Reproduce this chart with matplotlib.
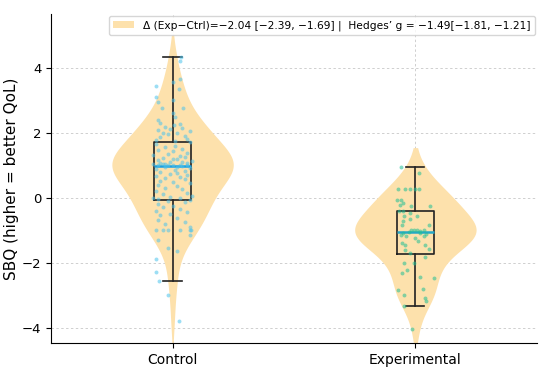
import numpy as np
import matplotlib.pyplot as plt
from matplotlib.patches import Patch

groups = ["Control", "Experimental"]

ctrl_vals = [
    4.34, 4.19, 3.64, 3.57, 3.44, 3.33, 3.09, 3.0, 2.93, 2.75, 2.75, 2.59, 2.47, 2.39, 2.29,
    2.26, 2.23, 2.16, 2.13, 2.10, 2.08, 2.06, 2.0, 1.98, 1.95, 1.9, 1.85, 1.8, 1.76, 1.73,
    1.70, 1.65, 1.6, 1.55, 1.5, 1.45, 1.42, 1.38, 1.35, 1.32, 1.28, 1.25, 1.22, 1.2, 1.18,
    1.15, 1.13, 1.1, 1.08, 1.06, 1.05, 1.04, 1.03, 1.02, 1.0, 1.0, 1.0, 1.0, 1.0, 0.98,
    0.95, 0.93, 0.9, 0.88, 0.85, 0.82, 0.8, 0.77, 0.74, 0.7, 0.67, 0.63, 0.6, 0.56, 0.52,
    0.48, 0.44, 0.4, 0.35, 0.3, 0.25, 0.2, 0.15, 0.1, 0.05, 0.02, 0.0, -0.02, -0.04, -0.07,
    -0.1, -0.15, -0.2, -0.25, -0.3, -0.35, -0.4, -0.45, -0.5, -0.55, -0.62, -0.7, -0.75, -0.8, -0.9,
    -1.0, -1.0, -1.0, -1.0, -1.0, -1.0, -1.15, -1.3, -1.55, -1.65, -1.9, -2.29, -2.58, -3.0, -3.81,
]
ctrl_jit = [
    0.033, 0.03, 0.03, 0.0, -0.07, 0.025, -0.07, 0.0, -0.06, -0.045, 0.045, 0.0, 0.01, -0.06, -0.05,
    0.03, 0.005, -0.03, 0.04, -0.01, -0.06, 0.07, -0.04, 0.02, -0.02, 0.05, -0.05, 0.06, -0.07, 0.01,
    0.07, -0.07, 0.01, -0.03, 0.04, -0.06, 0.0, 0.06, -0.02, -0.08, 0.03, 0.05, -0.04, 0.0, 0.02,
    -0.06, 0.08, -0.01, 0.04, -0.05, 0.06, -0.03, -0.08, -0.04, 0.0, 0.03, 0.06, -0.06, -0.02, 0.04,
    0.02, -0.03, 0.07, -0.07, 0.01, 0.05, -0.05, 0.02, -0.01, 0.06, -0.07, 0.03, -0.03, 0.05, -0.05,
    0.0, 0.07, -0.06, 0.02, -0.03, 0.04, -0.07, 0.06, -0.04, 0.08, -0.01, -0.08, 0.03, -0.06, 0.07,
    -0.02, 0.05, -0.06, 0.0, -0.04, 0.03, -0.07, 0.06, -0.01, -0.05, 0.02, -0.06, 0.05, -0.03, 0.07,
    -0.07, -0.04, -0.02, 0.03, 0.07, 0.075, 0.07, -0.06, -0.02, 0.02, -0.07, -0.07, -0.055, -0.018, 0.025,
]

exp_vals = [
    0.95, 0.75, 0.26, 0.26, 0.26, 0.26, 0.26, -0.06, -0.06, -0.18, -0.23, -0.25, -0.27,
    -0.41, -0.41, -0.47, -0.56, -0.57, -0.67, -0.72, -0.85, -0.85, -1.0, -1.0, -1.0, -1.0,
    -1.03, -1.05, -1.08, -1.1, -1.12, -1.15, -1.19, -1.19, -1.23, -1.34, -1.39, -1.47, -1.47,
    -1.59, -1.62, -1.70, -1.84, -2.0, -2.0, -2.23, -2.31, -2.44, -2.49, -2.80, -2.85, -3.0,
    -3.08, -3.19, -3.35, -4.06,
]
exp_jit = [
    -0.059, 0.014, -0.071, -0.044, -0.021, -0.003, 0.014, -0.075, -0.059, -0.052, -0.065, 0.059, -0.018,
    -0.069, -0.052, -0.023, -0.048, 0.007, -0.023, -0.052, -0.055, 0.055, -0.018, -0.007, 0.007, 0.034,
    0.018, -0.028, 0.02, -0.05, 0.045, -0.06, -0.037, 0.034, -0.003, 0.01, -0.055, -0.041, 0.038,
    0.055, -0.044, -0.021, 0.041, -0.048, -0.007, -0.034, -0.055, 0.018, 0.075, 0.032, -0.071, -0.048,
    0.041, 0.045, -0.045, -0.014,
]

legend_label = "Δ (Exp−Ctrl)=−2.04 [−2.39, −1.69] |  Hedges’ g = −1.49[−1.81, −1.21]"

data = [np.array(ctrl_vals), np.array(exp_vals)]
jits = [np.array(ctrl_jit), np.array(exp_jit)]
point_colors = ["#4cc3ec", "#1fbf95"]
median_colors = ["#1b9fe0", "#26a8c8"]
violin_color = "#fde1ac"

fig = plt.figure(figsize=(5.5, 3.67), dpi=100)
ax = fig.add_axes([0.093, 0.065, 0.883, 0.897])
ax.set_axisbelow(True)

for i, v in enumerate(data):
    # gaussian kde, scott bandwidth, each violin scaled to half-width 0.25
    bw = v.std(ddof=1) * len(v) ** (-1 / 5)
    grid = np.linspace(v.min() - 1.2 * bw, v.max() + 1.2 * bw, 400)
    dens = np.exp(-0.5 * ((grid[:, None] - v[None, :]) / bw) ** 2).sum(axis=1)
    dens = dens / dens.max() * 0.25
    ax.fill_betweenx(grid, i - dens, i + dens, color=violin_color, lw=0, zorder=1)

bp = ax.boxplot(data, positions=[0, 1], widths=0.15, showfliers=False,
                boxprops=dict(color="#222222", lw=1.2),
                whiskerprops=dict(color="#222222", lw=1.2),
                capprops=dict(color="#222222", lw=1.2),
                medianprops=dict(lw=1.8), zorder=3)
for m, c in zip(bp["medians"], median_colors):
    m.set_color(c)

for i, (v, j) in enumerate(zip(data, jits)):
    ax.scatter(i + j, v, s=8, color=point_colors[i], alpha=0.55, lw=0, zorder=4)

ax.set_xlim(-0.5, 1.5)
ax.set_ylim(-4.48, 5.65)
ax.set_xticks([0, 1])
ax.set_xticklabels(groups, fontsize=10)
ax.set_yticks([-4, -2, 0, 2, 4])
ax.tick_params(axis="y", labelsize=9.5)
ax.set_ylabel("SBQ (higher = better QoL)", fontsize=11, labelpad=2)
ax.grid(True, ls=(0, (2.5, 2.5)), lw=0.7, color="#cfcfcf")
ax.spines["top"].set_visible(False)
ax.spines["right"].set_visible(False)

ax.legend(handles=[Patch(facecolor=violin_color, label=legend_label)],
          loc="upper right", fontsize=7.7, frameon=True, handlelength=2.0,
          borderaxespad=0.2, fancybox=True)

fig.savefig("out.png", dpi=100)
